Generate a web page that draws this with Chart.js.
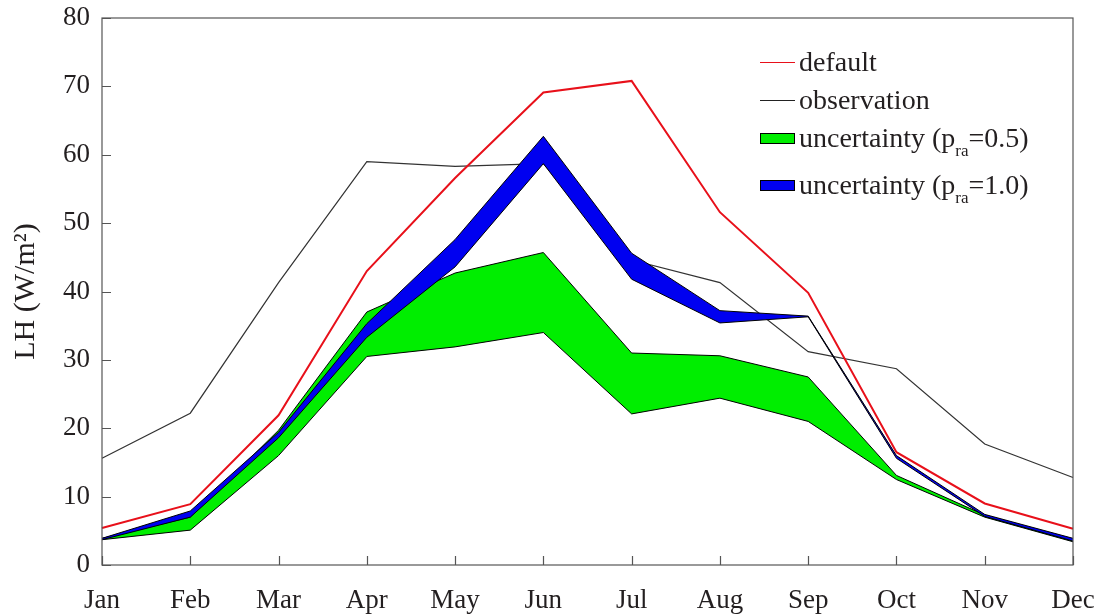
<!DOCTYPE html>
<html>
<head>
<meta charset="utf-8">
<script src="https://cdn.jsdelivr.net/npm/chart.js@4/dist/chart.umd.min.js"></script>
<style>
  html, body { margin: 0; padding: 0; background: #fff; }
  #wrap { position: relative; width: 1099px; height: 615px; }
  #legend { position: absolute; left: 760px; top: 0; font-family: 'Liberation Serif', 'Times New Roman', serif; font-size: 28px; color: #231f20; }
  .row { position: absolute; left: 0; white-space: nowrap; display: flex; align-items: center; height: 30px; }
  .line { width: 35px; height: 0; margin-right: 4px; }
  .box { width: 33px; height: 9px; border: 1px solid #000; margin-right: 4px; }
  .sub { font-size: 17px; position: relative; top: 9px; }
</style>
</head>
<body>
<div id="wrap">
  <canvas id="lhChart" width="1099" height="615"></canvas>
  <div id="legend">
    <div class="row" style="top:47px"><span class="line" style="border-top:1.5px solid #e8101a"></span><span>default</span></div>
    <div class="row" style="top:85px"><span class="line" style="border-top:1.5px solid #222"></span><span>observation</span></div>
    <div class="row" style="top:123px"><span class="box" style="background:#00ee00"></span><span>uncertainty (p<span class="sub">ra</span>=0.5)</span></div>
    <div class="row" style="top:170px"><span class="box" style="background:#0000f0"></span><span>uncertainty (p<span class="sub">ra</span>=1.0)</span></div>
  </div>
</div>
<script>
// datos
const months = ['Jan', 'Feb', 'Mar', 'Apr', 'May', 'Jun', 'Jul', 'Aug', 'Sep', 'Oct', 'Nov', 'Dec'];
const defaultLH = [5.4, 8.9, 21.9, 43.0, 56.6, 69.1, 70.8, 51.6, 39.8, 16.5, 9.0, 5.3];
const observationLH = [15.6, 22.2, 41.3, 59.0, 58.3, 58.7, 44.6, 41.3, 31.2, 28.7, 17.7, 12.8];
const blueUpper = [3.9, 7.9, 19.4, 35.3, 47.6, 62.7, 45.6, 37.2, 36.4, 16.0, 7.4, 3.9];
const blueLower = [3.7, 7.0, 18.6, 33.3, 43.6, 58.7, 41.8, 35.4, 36.3, 15.6, 7.1, 3.5];
const greenUpper = [3.9, 7.0, 19.7, 37.0, 42.7, 45.7, 31.0, 30.6, 27.5, 13.1, 7.3, 3.7];
const greenLower = [3.7, 5.1, 16.0, 30.5, 31.9, 34.0, 22.1, 24.4, 21.0, 12.5, 7.0, 3.4];
const yTicks = [0, 10, 20, 30, 40, 50, 60, 70, 80];

const serif = "'Liberation Serif', 'Times New Roman', serif";
const axisColor = '#555';

// marcas hacia dentro y caja alrededor (estilo MATLAB)
const boxTicks = {
    id: 'boxTicks',
    afterDraw(chart) {
        const { ctx, chartArea: a, scales } = chart;
        ctx.save();
        ctx.strokeStyle = axisColor;
        ctx.lineWidth = 1.2;
        ctx.strokeRect(a.left, a.top, a.right - a.left, a.bottom - a.top);
        ctx.beginPath();
        yTicks.forEach(v => {
            const y = Math.round(scales.y.getPixelForValue(v)) + 0.5;
            ctx.moveTo(a.left, y);
            ctx.lineTo(a.left + 9, y);
        });
        months.forEach((m, i) => {
            const x = Math.round(scales.x.getPixelForValue(i)) + 0.5;
            ctx.moveTo(x, a.bottom);
            ctx.lineTo(x, a.bottom - 9);
        });
        ctx.stroke();
        ctx.restore();
    }
};

const band = (data, color, fill) => ({
    data: data,
    borderColor: '#000',
    borderWidth: 1,
    backgroundColor: color,
    fill: fill,
    pointRadius: 0,
    tension: 0
});

new Chart(document.getElementById('lhChart').getContext('2d'), {
    type: 'line',
    data: {
        labels: months,
        datasets: [
            { label: 'default', data: defaultLH, borderColor: '#e8101a', borderWidth: 2, pointRadius: 0, fill: false },
            band(blueUpper, '#0000f0', false),
            band(blueLower, '#0000f0', '-1'),
            band(greenUpper, '#00ee00', false),
            band(greenLower, '#00ee00', '-1'),
            { label: 'observation', data: observationLH, borderColor: '#333', borderWidth: 1.2, pointRadius: 0, fill: false }
        ]
    },
    options: {
        responsive: false,
        animation: false,
        layout: { padding: { top: 18, right: 26, left: 0, bottom: 0 } },
        plugins: { legend: { display: false }, tooltip: { enabled: false } },
        scales: {
            x: {
                type: 'category',
                offset: false,
                grid: { display: false, drawTicks: false },
                border: { display: false },
                ticks: { color: '#231f20', font: { family: serif, size: 27 }, padding: 20, maxRotation: 0, autoSkip: false },
                afterFit: s => { s.height = 50; s.paddingLeft = 0; s.paddingRight = 0; }
            },
            y: {
                min: 0,
                max: 80,
                afterBuildTicks: s => { s.ticks = yTicks.map(v => ({ value: v })); },
                grid: { display: false, drawTicks: false },
                border: { display: false },
                ticks: { color: '#231f20', font: { family: serif, size: 27 }, padding: 12 },
                title: { display: true, text: 'LH (W/m²)', color: '#231f20', font: { family: serif, size: 30 }, padding: { top: 8, bottom: 0 } },
                afterFit: s => { s.width = 102; s.paddingTop = 0; s.paddingBottom = 0; }
            }
        }
    },
    plugins: [boxTicks]
});
</script>
</body>
</html>
